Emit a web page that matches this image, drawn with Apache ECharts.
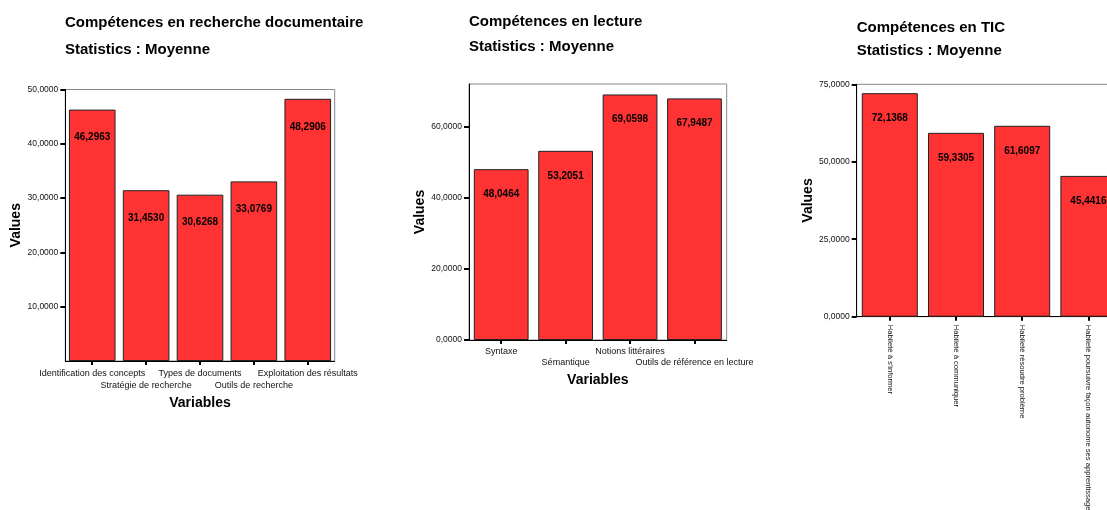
<!DOCTYPE html>
<html><head><meta charset="utf-8">
<script src="https://cdn.jsdelivr.net/npm/echarts@6/dist/echarts.min.js"></script>
<style>html,body{margin:0;padding:0;background:#fff}#c{width:1107px;height:510px}</style>
</head><body><div id="c"></div>
<script>
const titles1 = ['Compétences en recherche documentaire', 'Statistics : Moyenne'];
const titles2 = ['Compétences en lecture', 'Statistics : Moyenne'];
const titles3 = ['Compétences en TIC', 'Statistics : Moyenne'];

const cats1 = ['Identification des concepts', 'Stratégie de recherche', 'Types de documents', 'Outils de recherche', 'Exploitation des résultats'];
const vals1 = [46.2963, 31.4530, 30.6268, 33.0769, 48.2906];
const ticks1 = [10, 20, 30, 40, 50];

const cats2 = ['Syntaxe', 'Sémantique', 'Notions littéraires', 'Outils de référence en lecture'];
const vals2 = [48.0464, 53.2051, 69.0598, 67.9487];
const ticks2 = [0, 20, 40, 60];

const cats3 = ['Habileté à s\'informer', 'Habileté à communiquer', 'Habileté résoudre problème', 'Habileté poursuivre façon autonome ses apprentissage'];
const vals3 = [72.1368, 59.3305, 61.6097, 45.4416];
const ticks3 = [0, 25, 50, 75];

const yName = 'Values';
const xName = 'Variables';

const FONT = 'Liberation Sans, Arial, sans-serif';
const fmt = v => Number(v).toFixed(4).replace('.', ',');

const grids = [
  {left: 65.3, top: 89.5, width: 269.4, height: 271.5},
  {left: 469, top: 84, width: 257.7, height: 256},
  {left: 856.7, top: 84.3, width: 264.8, height: 232.4}
];

function yAxis(i, max, ticks, gap) {
  return {
    type: 'value', gridIndex: i, min: 0, max: max,
    name: yName, nameLocation: 'middle', nameGap: gap, nameRotate: 90,
    nameTextStyle: {fontFamily: FONT, fontWeight: 'bold', fontSize: 14, color: '#000'},
    axisLine: {show: true, lineStyle: {color: '#000', width: 1}},
    axisTick: {show: true, length: 5, lineStyle: {color: '#000', width: 2}, customValues: ticks},
    axisLabel: {fontFamily: FONT, fontSize: 8.5, color: '#111', margin: 7, formatter: fmt, customValues: ticks},
    splitLine: {show: false}
  };
}

function xAxis(i, cats, labelOpts, nameGap) {
  return Object.assign({
    type: 'category', gridIndex: i, data: cats,
    axisLine: {show: true, lineStyle: {color: '#000', width: 1}},
    axisTick: {show: true, alignWithLabel: true, length: 4, lineStyle: {color: '#000', width: 2}},
    splitLine: {show: false}
  }, nameGap ? {
    name: xName, nameLocation: 'middle', nameGap: nameGap,
    nameTextStyle: {fontFamily: FONT, fontWeight: 'bold', fontSize: 14, color: '#000'}
  } : {}, {axisLabel: labelOpts});
}

function series(i, vals, gap, dist) {
  return {
    type: 'bar', xAxisIndex: i, yAxisIndex: i, data: vals,
    barCategoryGap: gap,
    itemStyle: {color: '#FF3333', borderColor: '#222', borderWidth: 1},
    label: {show: true, position: 'insideTop', distance: dist, formatter: p => fmt(p.value),
      fontFamily: FONT, fontWeight: 'bold', fontSize: 10, color: '#000'},
    silent: true
  };
}

function titleEntries(lines, x, y1, y2) {
  return [
    {text: lines[0], left: x, top: y1, padding: 0, textStyle: {fontFamily: FONT, fontWeight: 'bold', fontSize: 15, color: '#000'}},
    {text: lines[1], left: x, top: y2, padding: 0, textStyle: {fontFamily: FONT, fontWeight: 'bold', fontSize: 15, color: '#000'}}
  ];
}

const chart = echarts.init(document.getElementById('c'), null, {renderer: 'canvas'});
chart.setOption({
  animation: false,
  backgroundColor: '#fff',
  title: [].concat(titleEntries(titles1, 65, 15.5, 42.5), titleEntries(titles2, 469, 14.5, 39.5), titleEntries(titles3, 856.7, 20.5, 43.5)),
  grid: grids.map(g => Object.assign({show: true, borderColor: '#888', borderWidth: 1, backgroundColor: 'transparent', outerBoundsMode: 'none', containLabel: false}, g)),
  xAxis: [
    xAxis(0, cats1, {interval: 0, fontFamily: FONT, fontSize: 9, color: '#111', margin: 7, lineHeight: 11.5,
      formatter: (v, idx) => idx % 2 ? '\n' + v : v}, 34),
    xAxis(1, cats2, {interval: 0, fontFamily: FONT, fontSize: 9, color: '#111', margin: 6, lineHeight: 11,
      formatter: (v, idx) => idx % 2 ? '\n' + v : v}, 32),
    xAxis(2, cats3, {interval: 0, fontFamily: FONT, fontSize: 7.6, color: '#111', margin: 8, rotate: -90}, 0)
  ],
  yAxis: [yAxis(0, 50, ticks1, 42), yAxis(1, 72, ticks2, 39), yAxis(2, 75, ticks3, 41.7)],
  series: [series(0, vals1, '13.5%', 23), series(1, vals2, '15%', 20), series(2, vals3, '15.4%', 20)]
});
</script></body></html>
